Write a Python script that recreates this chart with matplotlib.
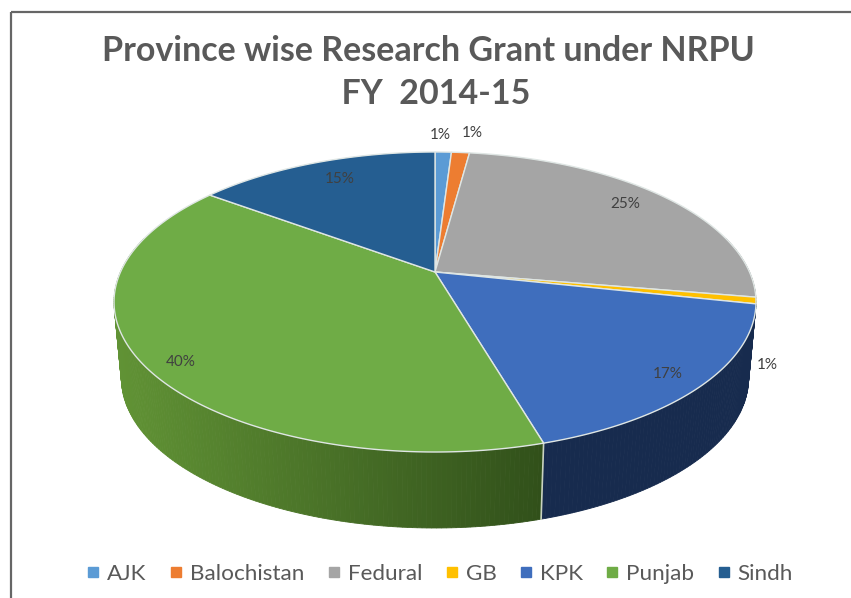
import numpy as np
import matplotlib
matplotlib.use("Agg")
import matplotlib.pyplot as plt
from matplotlib.colors import to_rgb
from matplotlib.lines import Line2D
from matplotlib.patches import Polygon

categories = ["AJK", "Balochistan", "Fedural", "GB", "KPK", "Punjab", "Sindh"]
values = [1.0, 1.1, 25.6, 0.7, 17.1, 39.7, 14.8]
pct_labels = ["1%", "1%", "25%", "1%", "17%", "40%", "15%"]
title_text = "Province wise Research Grant under NRPU\n  FY  2014-15"

colors = ["#5b9bd5", "#ed7d31", "#a5a5a5", "#ffc000", "#3f6ebd", "#6fac46", "#255e91"]
# wall shading: colour at the left and right end of each slice's side face
wall_left = ["#3a6a96", "#a85a24", "#707070", "#b08600", "#172b4e", "#619335", "#1a4066"]
wall_right = ["#3a6a96", "#a85a24", "#707070", "#b08600", "#172b4e", "#31501a", "#1a4066"]
label_xy = [(440, 135), (472, 133), (625, 204), (767, 365), (668, 374), (181, 362), (340, 179)]

plt.rcParams["font.family"] = ["Lato", "DejaVu Sans"]
W, H = 851, 598
fig = plt.figure(figsize=(W / 100, H / 100), dpi=100, facecolor="white")
ax = fig.add_axes([0, 0, 1, 1])
ax.set_xlim(0, W)
ax.set_ylim(H, 0)
ax.axis("off")

# perspective projection of the unit disc onto the page
CX, CY, RX, RY, PERSP = 435, 272, 314.5, 144, 0.2
DEPTH, SHRINK = 76, 0.977


def top(phi):
    u, v = np.sin(phi), np.cos(phi)
    w = 1 + PERSP * v
    return CX + RX * u / w, CY - RY * v / w


def bottom(phi):
    x, y = top(phi)
    return CX + (x - CX) * SHRINK, y + DEPTH


fractions = np.array(values) / np.sum(values)
edges = np.concatenate([[0], np.cumsum(fractions)]) * 2 * np.pi

# side wall
quads = []
for i in range(len(values)):
    phis = np.linspace(edges[i], edges[i + 1], max(3, int(values[i] * 5)))
    left, right = np.array(to_rgb(wall_left[i])), np.array(to_rgb(wall_right[i]))
    xt, _ = top(phis)
    span = xt.max() - xt.min()
    for a, b in zip(phis[:-1], phis[1:]):
        if np.cos((a + b) / 2) > 0.25:
            continue
        xa, ya = top(a)
        xb, yb = top(b)
        xc, yc = bottom(b)
        xd, yd = bottom(a)
        t = ((xa + xb) / 2 - xt.min()) / span
        col = left + (right - left) * t
        quads.append((-np.cos((a + b) / 2), [(xa, ya), (xb, yb), (xc, yc), (xd, yd)], col))
for _, pts, col in sorted(quads, key=lambda q: q[0]):
    ax.add_patch(Polygon(pts, closed=True, facecolor=col, edgecolor=col, lw=0.6, zorder=2))

# light seam between KPK and Punjab on the wall
kpk_end = edges[5]
ax.add_line(Line2D([top(kpk_end)[0], bottom(kpk_end)[0]], [top(kpk_end)[1], bottom(kpk_end)[1]],
                   color="#c8d2c0", lw=1.2, zorder=3))

# top face
for i, c in enumerate(colors):
    phis = np.linspace(edges[i], edges[i + 1], max(4, int(values[i] * 8)))
    x, y = top(phis)
    pts = [(CX, CY)] + list(zip(x, y))
    ax.add_patch(Polygon(pts, closed=True, facecolor=c, edgecolor="#dfe6e4", lw=1.0,
                         joinstyle="round", zorder=4))

for txt, (x, y) in zip(pct_labels, label_xy):
    ax.text(x, y, txt, ha="center", va="center", fontsize=11, color="#404040", zorder=6)

ax.set_title(title_text, fontsize=24.5, fontweight="bold", color="#595959",
             x=428 / W, y=1 - 118 / H, va="bottom", linespacing=1.4)

handles = [Line2D([], [], linestyle="none", marker="s", markersize=7, color=c) for c in colors]
ax.legend(handles, categories, loc="center", bbox_to_anchor=(436 / W, 1 - 574 / H), ncol=7,
          frameon=False, fontsize=16.2, labelcolor="#595959", handletextpad=0.0,
          columnspacing=0.68, handlelength=1.25, borderpad=0)

# screenshot frame
ax.add_line(Line2D([11, 11], [H, 12], color="#666666", lw=1.6, zorder=7, solid_capstyle="butt"))
ax.add_line(Line2D([11, W], [12, 12], color="#666666", lw=1.6, zorder=7, solid_capstyle="butt"))

fig.savefig("out.png", dpi=100, facecolor="white")
